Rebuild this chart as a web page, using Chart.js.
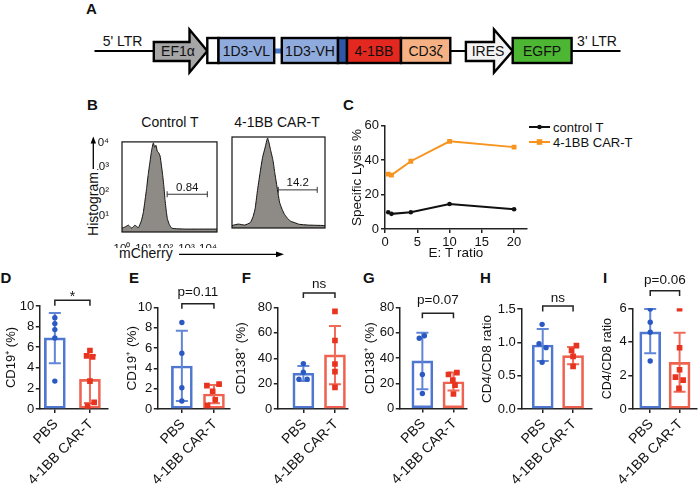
<!DOCTYPE html>
<html><head><meta charset="utf-8">
<script src="https://cdn.jsdelivr.net/npm/chart.js@4.4.1/dist/chart.umd.min.js"></script>
<style>
html,body{margin:0;padding:0;background:#fff}
body{width:699px;height:485px;position:relative;overflow:hidden;font-family:'Liberation Sans',Arial,Helvetica,sans-serif;color:#111}
canvas{position:absolute}
svg{position:absolute;left:0;top:0}
</style></head><body>
<svg id="art" width="699" height="485"></svg>
<script>
// ================= DATA =================
// Panel B: flow histograms (log10 of mCherry intensity, log10 of count)
const histTickExp = [0, 1, 2, 3, 4];
const histYTickExp = [1, 2, 3, 4];
const ctrlHistLogX = [0.0, 0.15, 0.3, 0.45, 0.6, 0.76, 0.9, 0.99, 1.08, 1.15, 1.22, 1.30, 1.38, 1.46, 1.52, 1.58, 1.64, 1.70, 1.77, 1.83, 1.89, 1.95, 2.0, 2.06, 2.11, 2.2, 2.31, 2.6, 3.0, 3.5, 4.0, 4.42];
const ctrlHistLogY = [0.5, 0.55, 0.62, 0.5, 0.62, 0.52, 0.8, 1.13, 1.7, 2.17, 2.7, 3.21, 3.7, 4.0, 3.82, 3.9, 3.66, 3.6, 3.47, 3.1, 2.69, 2.2, 1.67, 1.2, 0.89, 0.65, 0.5, 0.47, 0.46, 0.46, 0.46, 0.46];
const carHistLogX = [0.0, 0.3, 0.6, 0.87, 1.0, 1.1, 1.2, 1.33, 1.45, 1.57, 1.69, 1.76, 1.83, 1.95, 2.03, 2.11, 2.26, 2.38, 2.5, 2.65, 2.8, 3.0, 3.2, 3.6, 4.0, 4.42];
const carHistLogY = [0.44, 0.5, 0.46, 0.56, 0.8, 1.13, 1.8, 2.56, 3.2, 3.6, 4.0, 3.8, 3.53, 3.08, 2.6, 2.17, 1.39, 1.1, 0.89, 0.72, 0.61, 0.55, 0.49, 0.46, 0.45, 0.44];
const ctrlGateLog = [2.1, 3.97];
const carGateLog = [2.2, 4.05];
const gateLevelLog = 1.89;
const ctrlGatePct = '0.84';
const carGatePct = '14.2';

// Panel C: cytotoxicity
const etRatio = [0.5, 1, 4, 10, 20];
const lysisControlT = [9.7, 8.8, 9.7, 14.5, 11.5];
const lysisCarT = [31.9, 31.3, 39.4, 51.0, 47.6];
const cXTicks = [0, 5, 10, 15, 20];
const cYTicks = [0, 20, 40, 60];

// Panels D-I: group means, error bars and individual values
const groups = ['PBS', '4-1BB CAR-T'];
const dMean = [6.9, 2.87], dLow = [4.45, 0.58], dHigh = [9.32, 5.23];
const dPBS = [8.87, 8.29, 7.71, 6.9, 2.71];
const dCAR = [5.68, 5.16, 5.06, 2.71, 0.65, 0.29];
const eMean = [4.24, 1.48], eLow = [0.79, 0.56], eHigh = [7.7, 2.37];
const ePBS = [8.52, 5.5, 2.1, 0.79];
const eCAR = [2.45, 2.3, 1.75, 0.9, 0.35];
const fMean = [28.2, 42.6], fLow = [22.0, 19.5], fHigh = [33.8, 65.5];
const fPBS = [35.8, 29.0, 23.4, 23.4];
const fCAR = [76.9, 54.0, 35.5, 29.5, 17.1];
const gMean = [37.8, 21.2], gLow = [15.3, 14.3], gHigh = [60.1, 28.6];
const gPBS = [55.7, 57.7, 27.0, 11.9];
const gCAR = [28.5, 27.0, 22.5, 18.5, 11.5];
const hMean = [0.96, 0.80], hLow = [0.72, 0.67], hHigh = [1.20, 0.93];
const hPBS = [1.27, 0.98, 0.92, 0.70];
const hCAR = [0.95, 0.88, 0.79, 0.64];
const iMean = [4.6, 2.78], iLow = [3.32, 1.03], iHigh = [5.96, 4.55];
const iPBS = [5.96, 5.17, 4.57, 2.86];
const iCAR = [5.98, 3.65, 2.34, 1.90, 1.72, 1.23];
const sigLabels = ['*', 'p=0.11', 'ns', 'p=0.07', 'ns', 'p=0.06'];

// ================= STYLE / LAYOUT =================
const FONT = "'Liberation Sans', Arial, Helvetica, sans-serif";
const INK = '#111';
const BLUE_BAR = '#4f77d0', BLUE_ERR = '#6186d6', BLUE_PT = '#2b59c3';
const RED_BAR = '#ee624f', RED_ERR = '#ef6b58', RED_PT = '#e8331f';
const ORANGE = '#f7941d';

Chart.defaults.font.family = FONT;
Chart.defaults.color = INK;
Chart.defaults.animation = false;

// ---------- static artwork (panel A construct, arrows, labels) ----------
(function art() {
  let s = '';
  const T = (str, x, y, fs, o = {}) =>
    `<text x="${x}" y="${y}" font-family="${FONT.replace(/'/g, '')}" font-size="${fs}" ${o.bold ? 'font-weight="bold"' : ''} text-anchor="${o.anchor || 'middle'}" fill="${o.fill || INK}" ${o.tr ? `transform="${o.tr}"` : ''}>${str}</text>`;
  // Panel A
  s += `<line x1="94.5" y1="51" x2="620.5" y2="51" stroke="#000" stroke-width="2.2"/>`;
  const arrow = (x0, xb, xt, fill) => `<polygon points="${x0},42 ${xb},42 ${xb},29.5 ${xt},51 ${xb},72.5 ${xb},61 ${x0},61" fill="${fill}" stroke="#000" stroke-width="2.4"/>`;
  const seg = (x0, x1, fill) => `<rect x="${x0}" y="38" width="${(x1 - x0).toFixed(1)}" height="25" fill="${fill}" stroke="#000" stroke-width="2.4"/>`;
  s += arrow(153.8, 189.5, 207.3, '#a6a6a6');
  s += arrow(465.9, 494, 512.7, '#f3f3f3');
  s += `<rect x="274.2" y="48.5" width="7.6" height="5" fill="#4a78c8"/>`;
  s += seg(207.3, 218.5, '#ffffff') + seg(218.5, 274.2, '#8faadc');
  s += seg(281.8, 338, '#8faadc') + seg(338, 347, '#2f55a4') + seg(347, 401, '#e3281f') + seg(401, 450.3, '#f5b183');
  s += seg(512.7, 571.6, '#4db733');
  s += T("5' LTR", 122.6, 46, 14) + T("3' LTR", 597, 46, 14);
  s += T('EF1α', 178, 55.8, 14) + T('1D3-VL', 246.4, 55.8, 14) + T('1D3-VH', 310, 55.8, 14);
  s += T('4-1BB', 374, 55.8, 14) + T('CD3ζ', 425.6, 55.8, 14) + T('IRES', 488, 55.8, 14) + T('EGFP', 542, 55.8, 14);
  // Panel letters
  const L = [['A', 86, 14], ['B', 87, 110], ['C', 343, 110], ['D', 0.5, 283.3], ['E', 129, 282.7], ['F', 241.7, 282.7], ['G', 363, 283], ['H', 480, 282.7], ['I', 603, 283]];
  L.forEach(([t, x, y]) => s += T(t, x, y, 15, { bold: true, anchor: 'start' }));
  // Panel B texts and arrows
  s += T('Control T', 170, 127, 14) + T('4-1BB CAR-T', 277, 127, 14);
  s += T('Histogram', 0, 0, 14, { tr: 'translate(98,204) rotate(-90)' });
  s += `<line x1="93.3" y1="169" x2="93.3" y2="142" stroke="#000" stroke-width="1.3"/><polygon points="93.3,136.5 90.6,143.5 96,143.5" fill="#000"/>`;
  s += T('mCherry', 119, 257.5, 14, { anchor: 'start' });
  s += `<line x1="179" y1="254.3" x2="277" y2="254.3" stroke="#000" stroke-width="1.3"/><polygon points="284,254.3 276,251.4 276,257.2" fill="#000"/>`;
  // Panel C legend
  s += `<line x1="529" y1="127" x2="550" y2="127" stroke="${INK}" stroke-width="2"/><circle cx="539.5" cy="127" r="2.3" fill="${INK}"/>`;
  s += T('control T', 553, 131.5, 13, { anchor: 'start' });
  s += `<line x1="529" y1="142" x2="550" y2="142" stroke="${ORANGE}" stroke-width="2"/><rect x="536.7" y="139.2" width="5.6" height="5.6" fill="${ORANGE}"/>`;
  s += T('4-1BB CAR-T', 553, 146.5, 13, { anchor: 'start' });
  document.getElementById('art').innerHTML = s;
})();

function mkCanvas(left, top, w, h) {
  const c = document.createElement('canvas');
  c.width = Math.round(w); c.height = Math.round(h);
  c.style.left = left + 'px'; c.style.top = top + 'px';
  c.style.width = Math.round(w) + 'px'; c.style.height = Math.round(h) + 'px';
  document.body.appendChild(c);
  return c;
}

// ---------- Panel B ----------
const SUP = ['⁰', '¹', '²', '³', '⁴'];
function histChart(rect, logX, logY, gate, pct, showLabels) {
  const leftAxis = showLabels ? 25 : 1, padTop = 7, padRight = 8, bottomAxis = showLabels ? 16 : 1;
  const cl = rect.l - leftAxis, ct = rect.t - padTop;
  const cv = mkCanvas(cl, ct, rect.r - cl + padRight, rect.b - ct + bottomAxis);
  new Chart(cv, {
    type: 'line',
    data: {
      datasets: [
        { data: logX.map((v, i) => ({ x: 10 ** v, y: 10 ** logY[i] })), fill: 'start', backgroundColor: '#8e8a86', borderColor: INK, borderWidth: 1, pointRadius: 0, tension: 0.15 },
        { data: gate.map(g => ({ x: 10 ** g, y: 10 ** gateLevelLog })), borderColor: '#333', borderWidth: 1, pointStyle: 'line', rotation: 90, pointRadius: 3, pointBorderWidth: 1, pointBorderColor: '#333', fill: false }
      ]
    },
    options: {
      responsive: false, devicePixelRatio: 1, animation: false,
      layout: { padding: { top: padTop, right: padRight, left: 0, bottom: 0 } },
      scales: {
        x: {
          type: 'logarithmic', min: 1, max: 10 ** 4.42,
          afterBuildTicks: s => { s.ticks = histTickExp.map(e => ({ value: 10 ** e })); },
          afterFit: s => { s.height = bottomAxis; },
          ticks: { display: showLabels, autoSkip: false, maxRotation: 0, minRotation: 0, padding: 2, font: { size: 11.5 }, callback: v => '10' + SUP[Math.round(Math.log10(v))] },
          grid: { display: false }, border: { display: false }
        },
        y: {
          type: 'logarithmic', min: 10 ** 0.34, max: 10 ** 4.04,
          afterBuildTicks: s => { s.ticks = histYTickExp.map(e => ({ value: 10 ** e })); },
          afterFit: s => { s.width = leftAxis; },
          ticks: { display: showLabels, autoSkip: false, padding: 5, font: { size: 11.5 }, callback: v => '10' + SUP[Math.round(Math.log10(v))] },
          grid: { display: false }, border: { display: false }
        }
      },
      plugins: { legend: { display: false }, tooltip: { enabled: false } }
    },
    plugins: [{
      id: 'frame',
      afterDraw(ch) {
        const a = ch.chartArea, c = ch.ctx, xs = ch.scales.x, ys = ch.scales.y;
        c.save();
        c.strokeStyle = INK; c.lineWidth = 1.2;
        c.strokeRect(a.left, a.top, a.right - a.left, a.bottom - a.top);
        const xm = xs.getPixelForValue(10 ** ((gate[0] + gate[1]) / 2));
        const yg = ys.getPixelForValue(10 ** gateLevelLog);
        c.fillStyle = INK; c.font = `11.5px ${FONT}`; c.textAlign = 'center'; c.textBaseline = 'alphabetic';
        c.fillText(pct, xm, yg - 3.5);
        c.restore();
      }
    }]
  });
}
histChart({ l: 122, t: 137, r: 217, b: 232 }, ctrlHistLogX, ctrlHistLogY, ctrlGateLog, ctrlGatePct, true);
histChart({ l: 228, t: 137, r: 325, b: 232 }, carHistLogX, carHistLogY, carGateLog, carGatePct, false);

// ---------- Panel C ----------
(function () {
  const r = { l: 385, t: 124, r: 527, b: 229 };
  const leftAxis = 36, padTop = 8, padRight = 6, bottomAxis = 32;
  const cl = r.l - leftAxis, ct = r.t - padTop;
  const cv = mkCanvas(cl, ct, r.r - cl + padRight, r.b - ct + bottomAxis);
  const axisGrid = { display: true, drawOnChartArea: false, drawTicks: true, tickLength: 4, color: '#222', lineWidth: 1.5 };
  new Chart(cv, {
    type: 'line',
    data: {
      datasets: [
        { label: 'control T', data: etRatio.map((x, i) => ({ x, y: lysisControlT[i] })), borderColor: INK, backgroundColor: INK, borderWidth: 2, pointStyle: 'circle', pointRadius: 2.3, pointBorderWidth: 0, tension: 0 },
        { label: '4-1BB CAR-T', data: etRatio.map((x, i) => ({ x, y: lysisCarT[i] })), borderColor: ORANGE, backgroundColor: ORANGE, borderWidth: 2, pointStyle: 'rect', pointRadius: 3.4, pointBorderWidth: 0, tension: 0 }
      ]
    },
    options: {
      responsive: false, devicePixelRatio: 1, animation: false,
      layout: { padding: { top: padTop, right: padRight, left: 0, bottom: 0 } },
      scales: {
        x: {
          type: 'linear', min: 0, max: 22,
          afterBuildTicks: s => { s.ticks = cXTicks.map(v => ({ value: v })); },
          afterFit: s => { s.height = bottomAxis; },
          ticks: { autoSkip: false, maxRotation: 0, padding: 2, font: { size: 13 } },
          grid: axisGrid, border: { display: true, color: '#222', width: 1.5 },
          title: { display: true, text: 'E: T ratio', font: { size: 13.5 }, padding: 0, color: INK }
        },
        y: {
          min: 0, max: 60,
          afterBuildTicks: s => { s.ticks = cYTicks.map(v => ({ value: v })); },
          afterFit: s => { s.width = leftAxis; },
          ticks: { padding: 2, font: { size: 13 } },
          grid: axisGrid, border: { display: true, color: '#222', width: 1.5 },
          title: { display: true, text: 'Specific Lysis %', font: { size: 13.5 }, padding: 0, color: INK }
        }
      },
      plugins: { legend: { display: false }, tooltip: { enabled: false } }
    }
  });
})();

// ---------- Panels D-I ----------
function barPanel(p) {
  const canvasTop = 268, padRight = 4;
  const cl = p.plotL - p.leftAxis;
  const padTop = p.plotT - canvasTop;
  const bottomAxis = 485 - p.plotB;
  const unit = p.carPx - p.pbsPx;
  const xMin = -(p.pbsPx - p.plotL) / unit, xMax = 1 + (p.plotR - p.carPx) / unit;
  const cv = mkCanvas(cl, canvasTop, p.plotR - cl + padRight, 485 - canvasTop);
  const axisGrid = { display: true, drawOnChartArea: false, drawTicks: true, tickLength: 4, color: '#222', lineWidth: 1.5, offset: false };
  const barC = [BLUE_BAR, RED_BAR], errC = [BLUE_ERR, RED_ERR];
  new Chart(cv, {
    type: 'bar',
    data: {
      datasets: [
        { type: 'bar', data: p.mean.map((m, i) => ({ x: i, y: m })), backgroundColor: 'rgba(255,255,255,0)', borderColor: barC, borderWidth: 2, barThickness: 21, borderSkipped: false, order: 2 },
        { type: 'scatter', data: p.pbs.map((v, i) => ({ x: p.pbsJit[i], y: v })), pointStyle: 'circle', pointRadius: 2.7, pointBorderWidth: 0, backgroundColor: BLUE_PT, borderColor: BLUE_PT, order: 1 },
        { type: 'scatter', data: p.car.map((v, i) => ({ x: 1 + p.carJit[i], y: v })), pointStyle: 'rect', pointRadius: 4, pointBorderWidth: 0, backgroundColor: RED_PT, borderColor: RED_PT, order: 1 }
      ]
    },
    options: {
      responsive: false, devicePixelRatio: 1, animation: false,
      layout: { padding: { top: padTop, right: padRight, left: 0, bottom: 0 } },
      scales: {
        x: {
          type: 'linear', min: xMin, max: xMax, offset: false,
          afterBuildTicks: s => { s.ticks = [{ value: 0 }, { value: 1 }]; },
          afterFit: s => { s.height = bottomAxis; },
          ticks: { display: false },
          grid: axisGrid, border: { display: true, color: '#222', width: 1.5 }
        },
        y: {
          min: 0, max: p.yMax,
          afterBuildTicks: s => { s.ticks = p.yTicks.map(v => ({ value: v })); },
          afterFit: s => { s.width = p.leftAxis; },
          ticks: { padding: 1.5, font: { size: 13 }, autoSkip: false, callback: v => p.dec ? v.toFixed(1) : String(v) },
          grid: axisGrid, border: { display: true, color: '#222', width: 1.5 },
          title: { display: true, text: p.yTitle, font: { size: p.titleFs }, padding: 0, color: INK }
        }
      },
      plugins: { legend: { display: false }, tooltip: { enabled: false } }
    },
    plugins: [{
      id: 'extras',
      afterDatasetDraw(ch, args) {
        if (args.index !== 0) return;
        const xs = ch.scales.x, ys = ch.scales.y, c = ch.ctx;
        c.save(); c.lineWidth = 2;
        for (let i = 0; i < 2; i++) {
          const x = xs.getPixelForValue(i), y0 = ys.getPixelForValue(p.lo[i]), y1 = ys.getPixelForValue(p.hi[i]);
          c.strokeStyle = errC[i];
          c.beginPath();
          c.moveTo(x, y0); c.lineTo(x, y1);
          c.moveTo(x - 6, y0); c.lineTo(x + 6, y0);
          c.moveTo(x - 6, y1); c.lineTo(x + 6, y1);
          c.stroke();
        }
        c.restore();
      },
      afterDraw(ch) {
        const xs = ch.scales.x, ys = ch.scales.y, c = ch.ctx, a = ch.chartArea;
        const x0 = xs.getPixelForValue(0), x1 = xs.getPixelForValue(1), yb = ys.getPixelForValue(p.bracket);
        c.save();
        c.strokeStyle = '#222'; c.lineWidth = 1.5;
        c.beginPath();
        c.moveTo(x0, yb + p.drop); c.lineTo(x0, yb); c.lineTo(x1, yb); c.lineTo(x1, yb + p.drop);
        c.stroke();
        c.fillStyle = INK; c.textAlign = 'center'; c.textBaseline = 'alphabetic';
        c.font = `${p.sig === '*' ? 14 : 13.5}px ${FONT}`;
        c.fillText(p.sig, (x0 + x1) / 2, yb - p.gap);
        c.font = `14px ${FONT}`; c.textAlign = 'right'; c.textBaseline = 'middle';
        groups.forEach((g, i) => {
          const x = xs.getPixelForValue(i);
          c.save(); c.translate(x + 1, a.bottom + 13); c.rotate(-Math.PI / 4); c.fillText(g, 0, 0); c.restore();
        });
        c.restore();
      }
    }]
  });
}

const cd19 = 'CD19⁺ (%)', cd138 = 'CD138⁺ (%)', ratio = 'CD4/CD8 ratio';
barPanel({ plotL: 40, plotR: 108, plotT: 306, plotB: 409, pbsPx: 55, carPx: 90, leftAxis: 35.8, yMax: 10, yTicks: [0, 2, 4, 6, 8, 10], yTitle: cd19, titleFs: 13,
  mean: dMean, lo: dLow, hi: dHigh, pbs: dPBS, car: dCAR, pbsJit: [0, 0, 0, 0, 0], carJit: [0, -0.095, 0.076, 0, 0.12, -0.066],
  bracket: 10.55, drop: 5.5, sig: sigLabels[0], gap: -1 });
barPanel({ plotL: 158, plotR: 230, plotT: 307.5, plotB: 409, pbsPx: 182, carPx: 214, leftAxis: 33.8, yMax: 10, yTicks: [0, 2, 4, 6, 8, 10], yTitle: cd19, titleFs: 13.5,
  mean: eMean, lo: eLow, hi: eHigh, pbs: ePBS, car: eCAR, pbsJit: [0, 0, 0, 0], carJit: [0.16, -0.22, -0.04, 0.04, -0.2],
  bracket: 10.37, drop: 5, sig: sigLabels[1], gap: 8 });
barPanel({ plotL: 278, plotR: 348, plotT: 307.5, plotB: 409, pbsPx: 303.5, carPx: 335, leftAxis: 44.8, yMax: 80, yTicks: [0, 20, 40, 60, 80], yTitle: cd138, titleFs: 13.5,
  mean: fMean, lo: fLow, hi: fHigh, pbs: fPBS, car: fCAR, pbsJit: [0, 0, -0.14, 0.12], carJit: [0, 0, 0, 0, 0],
  bracket: 91.4, drop: 5, sig: sigLabels[2], gap: 5 });
barPanel({ plotL: 400, plotR: 467, plotT: 307.7, plotB: 408.5, pbsPx: 422.5, carPx: 453.5, leftAxis: 37.8, yMax: 80, yTicks: [0, 20, 40, 60, 80], yTitle: cd138, titleFs: 13.5,
  mean: gMean, lo: gLow, hi: gHigh, pbs: gPBS, car: gCAR, pbsJit: [-0.1, 0.065, 0, 0], carJit: [0.11, -0.16, -0.02, 0.05, 0],
  bracket: 75.5, drop: 5, sig: sigLabels[3], gap: 9.6 });
barPanel({ plotL: 521, plotR: 592, plotT: 309, plotB: 409, pbsPx: 542.5, carPx: 573, leftAxis: 42.3, yMax: 1.5, yTicks: [0, 0.5, 1, 1.5], dec: true, yTitle: ratio, titleFs: 13.5,
  mean: hMean, lo: hLow, hi: hHigh, pbs: hPBS, car: hCAR, pbsJit: [-0.02, -0.12, 0.11, -0.02], carJit: [0.11, -0.05, 0, 0],
  bracket: 1.545, drop: 5.5, sig: sigLabels[4], gap: 4.3 });
barPanel({ plotL: 632, plotR: 697, plotT: 308.3, plotB: 409, pbsPx: 650, carPx: 679.5, leftAxis: 32.3, yMax: 6, yTicks: [0, 2, 4, 6], yTitle: ratio, titleFs: 12.5,
  mean: iMean, lo: iLow, hi: iHigh, pbs: iPBS, car: iCAR, pbsJit: [0, 0, 0, 0], carJit: [0, 0, 0, -0.14, 0.12, -0.02],
  bracket: 7.05, drop: 5.3, sig: sigLabels[5], gap: 6.7 });
</script>
</body></html>
